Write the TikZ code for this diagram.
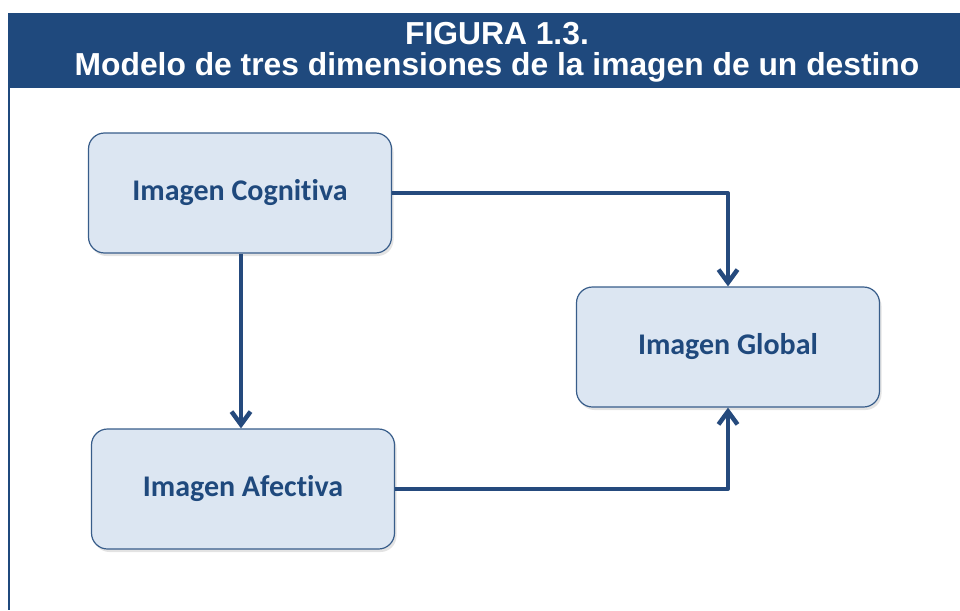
\documentclass[tikz,border=0pt]{standalone}
\usepackage{fontspec}
\setmainfont{Liberation Sans}
\newfontfamily\calibri[Ligatures=NoCommon]{Carlito}
\usetikzlibrary{arrows.meta,shadows}

\definecolor{figblue}{RGB}{31,73,125}
\definecolor{boxfill}{RGB}{220,230,242}
\definecolor{boxline}{RGB}{56,93,138}
\definecolor{arrowblue}{RGB}{37,74,125}

\tikzset{
  imgbox/.style={draw=boxline, line width=1.2pt, fill=boxfill,
    rounded corners=16pt, minimum width=303pt, minimum height=120pt,
    text=figblue, font=\calibri\bfseries\fontsize{30}{34}\selectfont,
    drop shadow={opacity=0.22, shadow xshift=2pt, shadow yshift=-3pt}},
  flow/.style={draw=arrowblue, line width=4pt, line cap=butt,
    -{Straight Barb[length=13pt,width=19pt,line width=4.5pt]}},
}

\begin{document}
\begin{tikzpicture}[x=1pt, y=-1pt, line join=round]

% ----------------------------
% FRAME
% ----------------------------
\useasboundingbox (0,0) rectangle (960,610);
\fill[figblue] (8,13) rectangle (960,88);
\draw[figblue, line width=2pt] (9,88) -- (9,610);

\node[text=white, font=\bfseries\fontsize{31.8}{31}\selectfont, align=center]
  (title) at (497,52) {FIGURA 1.3.\\Modelo de tres dimensiones de la imagen de un destino};

% ----------------------------
% BOXES
% ----------------------------
\node[imgbox] (cog) at (240,193) {Imagen Cognitiva};
\node[imgbox] (glo) at (728,347) {Imagen Global};
\node[imgbox] (afe) at (243,489) {Imagen Afectiva};

% ----------------------------
% CONNECTORS
% ----------------------------
\draw[flow] (cog.east) -| (glo.north);
\draw[flow] (cog.south -| 241,0) -- (afe.north -| 241,0);
\draw[flow] (afe.east) -| (glo.south);

\end{tikzpicture}
\end{document}
